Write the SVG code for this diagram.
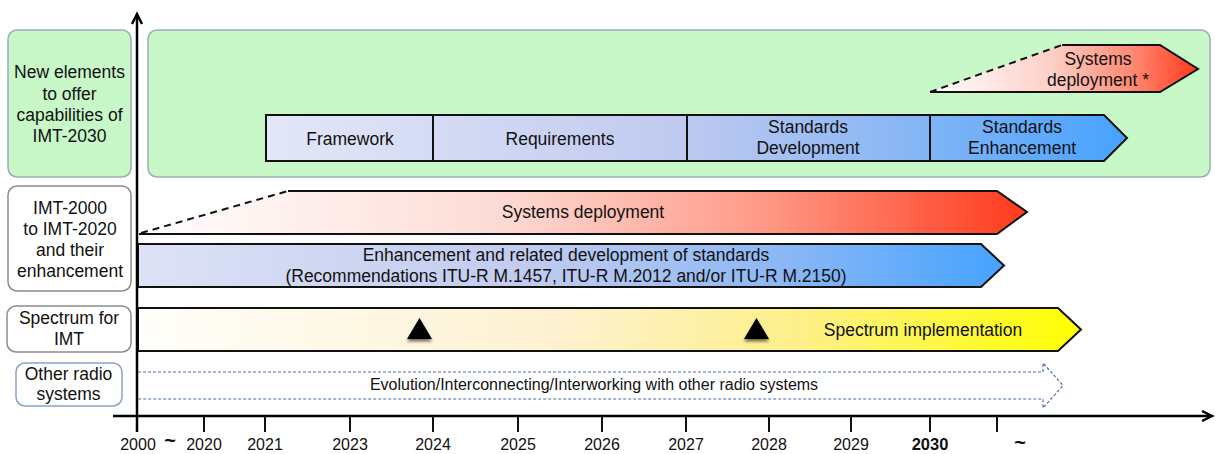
<svg xmlns="http://www.w3.org/2000/svg" width="1215" height="454" viewBox="0 0 1215 454">
<defs>
<style>
text{font-family:"Liberation Sans",Arial,sans-serif;font-size:17.5px;fill:#111;text-anchor:middle}
.lbl{stroke-width:1.5}
.bar{stroke:#111;stroke-width:2;fill:none;stroke-linejoin:miter}
.dash{stroke:#111;stroke-width:2;stroke-dasharray:7,5;fill:none}
.tick{stroke:#111;stroke-width:2}
.yr{font-size:16px}
</style>
<linearGradient id="gChain" gradientUnits="userSpaceOnUse" x1="266" y1="0" x2="1127" y2="0">
<stop offset="0" stop-color="#e3e7f7"/>
<stop offset="0.48" stop-color="#c0caef"/>
<stop offset="0.76" stop-color="#84b5f5"/>
<stop offset="1" stop-color="#46a2ff"/>
</linearGradient>
<linearGradient id="gEnh" gradientUnits="userSpaceOnUse" x1="138" y1="0" x2="1005" y2="0">
<stop offset="0" stop-color="#dde2f5"/>
<stop offset="0.45" stop-color="#c1cbef"/>
<stop offset="0.75" stop-color="#8ab7f5"/>
<stop offset="1" stop-color="#46a2ff"/>
</linearGradient>
<linearGradient id="gRed" gradientUnits="userSpaceOnUse" x1="140" y1="0" x2="1027" y2="0">
<stop offset="0" stop-color="#ffffff"/>
<stop offset="0.4" stop-color="#fddcd6"/>
<stop offset="0.7" stop-color="#ff9a88"/>
<stop offset="1" stop-color="#ff3a1c"/>
</linearGradient>
<linearGradient id="gRed2" gradientUnits="userSpaceOnUse" x1="930" y1="0" x2="1198" y2="0">
<stop offset="0" stop-color="#ffffff"/>
<stop offset="0.45" stop-color="#fdd0c8"/>
<stop offset="0.75" stop-color="#ff8a74"/>
<stop offset="1" stop-color="#ff3a1c"/>
</linearGradient>
<linearGradient id="gYel" gradientUnits="userSpaceOnUse" x1="138" y1="0" x2="1081" y2="0">
<stop offset="0" stop-color="#fffefa"/>
<stop offset="0.45" stop-color="#fdf1d0"/>
<stop offset="0.7" stop-color="#fdf08a"/>
<stop offset="1" stop-color="#ffff00"/>
</linearGradient>
<filter id="shadow" x="-50%" y="-50%" width="200%" height="200%">
<feDropShadow dx="0" dy="2.5" stdDeviation="1.5" flood-color="#000" flood-opacity="0.55"/>
</filter>
</defs>

<g id="label-new-elements">
<rect class="lbl" x="8" y="30" width="123" height="147" rx="9" fill="#c8f8c8" stroke="#9aaab8"/>
<text x="69.5" y="78">New elements</text>
<text x="69.5" y="99.5">to offer</text>
<text x="69.5" y="120.5">capabilities of</text>
<text x="69.5" y="141.5">IMT-2030</text>
</g>
<g id="panel-imt2030">
<rect class="lbl" x="148" y="30" width="1062" height="147" rx="9" fill="#c8f8c8" stroke="#9aaab8"/>
</g>
<g id="label-imt2000">
<rect class="lbl" x="8" y="186" width="123" height="105" rx="9" fill="#fff" stroke="#8c8c8c"/>
<text x="70" y="214">IMT-2000</text>
<text x="70" y="235">to IMT-2020</text>
<text x="70" y="256">and their</text>
<text x="70" y="277">enhancement</text>
</g>
<g id="label-spectrum">
<rect class="lbl" x="7" y="306" width="124" height="46" rx="9" fill="#fff" stroke="#8c8c8c"/>
<text x="69" y="324">Spectrum for</text>
<text x="69" y="345">IMT</text>
</g>
<g id="label-other">
<rect class="lbl" x="16" y="363" width="106" height="43" rx="9" fill="#fff" stroke="#8aa2c8"/>
<text x="68.5" y="380">Other radio</text>
<text x="68.5" y="400">systems</text>
</g>

<g id="framework">
<rect x="266" y="115" width="167" height="46" fill="url(#gChain)" stroke="#111" stroke-width="2"/>
<text x="350" y="145">Framework</text>
</g>
<g id="requirements">
<rect x="433" y="115" width="254" height="46" fill="url(#gChain)" stroke="#111" stroke-width="2"/>
<text x="560" y="145">Requirements</text>
</g>
<g id="standards-development">
<rect x="687" y="115" width="243" height="46" fill="url(#gChain)" stroke="#111" stroke-width="2"/>
<text x="808" y="133">Standards</text>
<text x="808" y="154">Development</text>
</g>
<g id="standards-enhancement">
<polygon points="930,115 1104,115 1127,138 1104,161 930,161" fill="url(#gChain)" stroke="#111" stroke-width="2"/>
<text x="1022" y="133">Standards</text>
<text x="1022" y="154">Enhancement</text>
</g>
<g id="systems-deployment-2030">
<polygon points="930,92 1062,45 1160,45 1198,69 1160,92" fill="url(#gRed2)"/>
<polyline class="bar" points="1062,45 1160,45 1198,69 1160,92 930,92"/>
<line class="dash" x1="930" y1="92" x2="1062" y2="45"/>
<text x="1098" y="65">Systems</text>
<text x="1098" y="86">deployment *</text>
</g>

<g id="systems-deployment">
<polygon points="139,234 288,191 997,191 1027,212 997,234" fill="url(#gRed)"/>
<polyline class="bar" points="288,191 997,191 1027,212 997,234 139,234"/>
<line class="dash" x1="141" y1="233" x2="288" y2="191"/>
<text x="583" y="218">Systems deployment</text>
</g>
<g id="enhancement-standards">
<polygon points="138,244 981,244 1004,265.5 981,287 138,287" fill="url(#gEnh)" stroke="#111" stroke-width="2"/>
<text x="566" y="261">Enhancement and related development of standards</text>
<text x="566" y="282">(Recommendations ITU-R M.1457, ITU-R M.2012 and/or ITU-R M.2150)</text>
</g>
<g id="spectrum-implementation">
<polygon points="138,308 1058,308 1081,329.5 1058,351 138,351" fill="url(#gYel)" stroke="#111" stroke-width="2"/>
<polygon points="407,339 419.5,318 432,339" fill="#000" filter="url(#shadow)"/>
<polygon points="744,339 756.5,318 769,339" fill="#000" filter="url(#shadow)"/>
<text x="923" y="336">Spectrum implementation</text>
</g>
<g id="other-radio-systems">
<path d="M138,372 H1043 V363 L1063,385.5 L1043,408 V399 H138" fill="#fff" stroke="#4a6ea8" stroke-width="1.2" stroke-dasharray="3,2"/>
<text x="594" y="390" style="font-size:16px">Evolution/Interconnecting/Interworking with other radio systems</text>
</g>

<g id="axes">
<line x1="137" y1="432" x2="137" y2="15" stroke="#000" stroke-width="2.5"/>
<polyline points="132,24 137,14 142,24" fill="none" stroke="#000" stroke-width="2.5"/>
<line x1="113" y1="416" x2="1211" y2="416" stroke="#000" stroke-width="2.5"/>
<polyline points="1202,411 1212,416 1202,421" fill="none" stroke="#000" stroke-width="2.5"/>
<line class="tick" x1="204" y1="416" x2="204" y2="432"/>
<line class="tick" x1="265" y1="416" x2="265" y2="432"/>
<line class="tick" x1="350" y1="416" x2="350" y2="432"/>
<line class="tick" x1="433" y1="416" x2="433" y2="432"/>
<line class="tick" x1="518" y1="416" x2="518" y2="432"/>
<line class="tick" x1="602" y1="416" x2="602" y2="432"/>
<line class="tick" x1="686" y1="416" x2="686" y2="432"/>
<line class="tick" x1="769" y1="416" x2="769" y2="432"/>
<line class="tick" x1="851" y1="416" x2="851" y2="432"/>
<line class="tick" x1="930" y1="416" x2="930" y2="432"/>
<line class="tick" x1="997" y1="416" x2="997" y2="432"/>
</g>

<g id="years">
<text class="yr" x="138" y="450">2000</text>
<text x="170" y="447" style="font-size:20px;font-weight:bold">~</text>
<text class="yr" x="204" y="450">2020</text>
<text class="yr" x="265" y="450">2021</text>
<text class="yr" x="350" y="450">2023</text>
<text class="yr" x="433" y="450">2024</text>
<text class="yr" x="518" y="450">2025</text>
<text class="yr" x="602" y="450">2026</text>
<text class="yr" x="686" y="450">2027</text>
<text class="yr" x="769" y="450">2028</text>
<text class="yr" x="851" y="450">2029</text>
<text x="930" y="450" style="font-size:16.5px;font-weight:bold">2030</text>
<text x="1020" y="449" style="font-size:20px;font-weight:bold">~</text>
</g>
</svg>
